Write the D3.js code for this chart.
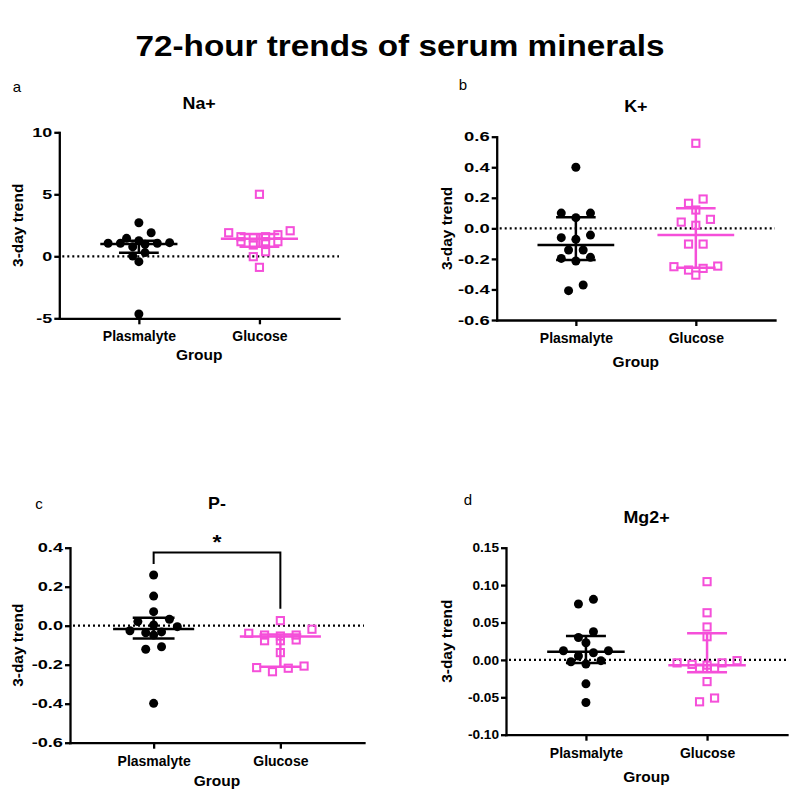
<!DOCTYPE html>
<html><head><meta charset="utf-8">
<script src="https://cdn.jsdelivr.net/npm/d3@7"></script>
<style>
body{margin:0;background:#fff;}
svg{display:block;font-family:Arial,"Liberation Sans",sans-serif;}
</style>
</head><body>
<svg id="chart" width="800" height="805"></svg>
<script>
// ---------------- DATA ----------------
const groups = ["Plasmalyte", "Glucose"];

// Na+
const naPlasmalyte = [2.71, 0.97, 1.05, 1.26, 1.1, 1.45, 0.77, 1.05, 1.9, 1.05, 0.3, 0.02, -0.43, -4.65];
const naGlucose    = [5.0, 1.58, 1.74, 1.18, 2.06, 1.18, 1.58, 0.91, 1.9, 1.18, 1.5, 0.37, -0.03, -0.89];
const naMedian = [1.0, 1.42];
const naQ1     = [0.29, 0.77];
const naQ3     = [1.26, 1.8];
const naTicks  = [-5, 0, 5, 10];

// K+
const kPlasmalyte = [0.40, 0.10, 0.10, 0.07, -0.044, -0.072, -0.061, -0.142, -0.142, -0.19, -0.197, -0.214, -0.408, -0.371];
const kGlucose    = [0.557, 0.192, 0.164, 0.12, 0.059, 0.041, 0.02, -0.103, -0.103, -0.247, -0.306, -0.251, -0.273, -0.262];
const kMedian = [-0.109, -0.044];
const kQ1     = [-0.208, -0.258];
const kQ3     = [0.072, 0.131];
const kTicks  = [-0.6, -0.4, -0.2, 0.0, 0.2, 0.4, 0.6];

// P-
const pPlasmalyte = [0.26, 0.152, 0.072, 0.021, 0.033, 0.004, -0.036, -0.032, -0.005, -0.048, -0.026, -0.121, -0.108, -0.398];
const pGlucose    = [0.026, -0.039, -0.018, -0.077, -0.053, -0.077, -0.048, -0.048, -0.073, -0.138, -0.236, -0.207, -0.218, -0.215];
const pMedian = [-0.017, -0.055];
const pQ1     = [-0.065, -0.21];
const pQ3     = [0.041, -0.045];
const pTicks  = [-0.6, -0.4, -0.2, 0.0, 0.2, 0.4];
const pSignificance = ["*"];
const pBracketValue = [0.375];

// Mg2+
const mgPlasmalyte = [0.0747, 0.081, 0.0377, 0.030, 0.023, 0.0096, 0.0123, 0.0123, 0.0052, -0.0024, -0.0055, -0.001, -0.032, -0.057];
const mgGlucose    = [0.1046, 0.063, 0.044, 0.031, -0.006, -0.001, -0.007, -0.011, -0.011, -0.004, -0.004, -0.029, -0.056, -0.051];
const mgMedian = [0.011, -0.007];
const mgQ1     = [-0.004, -0.0166];
const mgQ3     = [0.032, 0.0355];
const mgTicks  = [-0.10, -0.05, 0.00, 0.05, 0.10, 0.15];

const mainTitle = "72-hour trends of serum minerals";
const yTitle = "3-day trend";
const xTitle = "Group";

// ---------------- LAYOUT / STYLE ----------------
const colors = ["#000000", "#f54fd9"];
const svg = d3.select("#chart");

const panels = [
  {letter:"a", title:"Na+", data:[naPlasmalyte, naGlucose], med:naMedian, q1:naQ1, q3:naQ3, ticks:naTicks, dec:0,
   left:59.3, right:339, top:132.3, bottom:318.3, letterX:17, letterY:87, titleY:103, yLabelX:18, groupY:355, spread:12.3, tickSx:1.38, thr:8},
  {letter:"b", title:"K+", data:[kPlasmalyte, kGlucose], med:kMedian, q1:kQ1, q3:kQ3, ticks:kTicks, dec:1,
   left:496.7, right:775, top:136.7, bottom:320, letterX:463, letterY:85, titleY:106, yLabelX:447, groupY:362, spread:14.6, tickSx:1.42, thr:7},
  {letter:"c", title:"P-", data:[pPlasmalyte, pGlucose], med:pMedian, q1:pQ1, q3:pQ3, ticks:pTicks, dec:1,
   left:70, right:364, top:547.7, bottom:742.7, letterX:39, letterY:504, titleY:503, yLabelX:18, groupY:781, spread:15.8, tickSx:1.4, thr:7,
   sig:{label:pSignificance[0], value:pBracketValue[0]}},
  {letter:"d", title:"Mg2+", data:[mgPlasmalyte, mgGlucose], med:mgMedian, q1:mgQ1, q3:mgQ3, ticks:mgTicks, dec:2,
   left:506, right:787, top:547.7, bottom:734.7, letterX:468, letterY:500, titleY:517, yLabelX:447, groupY:777, spread:15, tickSx:1.05, thr:7}
];

function addText(g, x, y, str, size, weight, sx, rotate) {
  return g.append("text")
    .attr("transform", `translate(${x},${y})` + (rotate ? ` rotate(${rotate})` : "") + ` scale(${sx},1)`)
    .attr("text-anchor", "middle")
    .attr("dy", "0.35em")
    .attr("font-size", size)
    .attr("font-weight", weight)
    .attr("fill", "#000")
    .text(str);
}

// main title
addText(svg, 400, 45, mainTitle, 30, "bold", 1.11);

function swarm(values, y, spread, thr) {
  const pts = values.map((v, i) => ({v, i, py: y(v), dx: 0}));
  const sorted = pts.slice().sort((a, b) => a.py - b.py);
  const rows = [];
  let cur = null;
  sorted.forEach(p => {
    if (cur && p.py - cur[0].py < thr) cur.push(p);
    else { cur = [p]; rows.push(cur); }
  });
  rows.forEach(row => {
    const n = row.length;
    const order = row.slice().sort((a, b) => a.v - b.v);
    const slots = [];
    if (n % 2) {
      slots.push(0);
      for (let k = 1; slots.length < n; k++) { slots.push(-k); if (slots.length < n) slots.push(k); }
    } else {
      for (let k = 0.5; slots.length < n; k++) { slots.push(-k); slots.push(k); }
    }
    order.forEach((p, j) => p.dx = slots[j] * spread);
  });
  return pts;
}

panels.forEach(P => {
  const g = svg.append("g");
  const x = d3.scalePoint().domain(groups).range([P.left, P.right]).padding(0.66);
  const y = d3.scaleLinear().domain([P.ticks[0], P.ticks[P.ticks.length - 1]]).range([P.bottom, P.top]);
  const step = x.step();

  // letter, title
  addText(g, P.letterX, P.letterY, P.letter, 15, "normal", 1.0);
  addText(g, (P.left + P.right) / 2, P.titleY, P.title, 17, "bold", 1.05);

  // zero dotted line
  g.append("line")
    .attr("x1", P.left + 3).attr("x2", P.right)
    .attr("y1", y(0)).attr("y2", y(0))
    .attr("stroke", "#000").attr("stroke-width", 2.2)
    .attr("stroke-dasharray", "2,3");

  // points
  groups.forEach((grp, gi) => {
    const pts = swarm(P.data[gi], y, P.spread, P.thr);
    const cx = x(grp);
    if (gi === 0) {
      g.selectAll(null).data(pts).enter().append("circle")
        .attr("cx", d => cx + d.dx).attr("cy", d => d.py).attr("r", 4.5)
        .attr("fill", colors[0]);
    } else {
      const s = 7.2;
      g.selectAll(null).data(pts).enter().append("rect")
        .attr("x", d => cx + d.dx - s / 2).attr("y", d => d.py - s / 2)
        .attr("width", s).attr("height", s)
        .attr("fill", "none").attr("stroke", colors[1]).attr("stroke-width", 2);
    }
  });

  // error bars (median + IQR)
  groups.forEach((grp, gi) => {
    const cx = x(grp);
    const col = colors[gi];
    const mw = 0.32 * step, cw = 0.165 * step;
    const eg = g.append("g").attr("stroke", col).attr("stroke-width", 2.5);
    eg.append("line").attr("x1", cx).attr("x2", cx).attr("y1", y(P.q1[gi])).attr("y2", y(P.q3[gi]));
    eg.append("line").attr("x1", cx - cw).attr("x2", cx + cw).attr("y1", y(P.q1[gi])).attr("y2", y(P.q1[gi]));
    eg.append("line").attr("x1", cx - cw).attr("x2", cx + cw).attr("y1", y(P.q3[gi])).attr("y2", y(P.q3[gi]));
    eg.append("line").attr("x1", cx - mw).attr("x2", cx + mw).attr("y1", y(P.med[gi])).attr("y2", y(P.med[gi]));
  });

  // significance
  if (P.sig) {
    const by = y(P.sig.value);
    const x0 = x(groups[0]), x1 = x(groups[1]);
    const l0 = y(d3.max(P.data[0])) - 11, l1 = y(d3.max(P.data[1])) - 12;
    g.append("path")
      .attr("d", `M${x0},${l0}V${by}H${x1}V${l1}`)
      .attr("fill", "none").attr("stroke", "#000").attr("stroke-width", 2);
    addText(g, (x0 + x1) / 2, by - 11, P.sig.label, 21, "bold", 1.1);
  }

  // axes
  const yAxis = d3.axisLeft(y).tickValues(P.ticks).tickFormat(v => v.toFixed(P.dec))
    .tickSize(5).tickSizeOuter(0).tickPadding(2);
  const ya = g.append("g").attr("transform", `translate(${P.left},0)`).call(yAxis);
  ya.select(".domain").attr("stroke-width", 2.3).attr("stroke-linecap", "square");
  ya.selectAll(".tick line").attr("stroke-width", 2.3);
  ya.selectAll(".tick text")
    .attr("font-size", 13).attr("font-weight", "bold").attr("font-family", "Arial, 'Liberation Sans', sans-serif")
    .attr("fill", "#000").attr("x", 0)
    .attr("transform", `translate(-7,0) scale(${P.tickSx},1)`);

  const xAxis = d3.axisBottom(x).tickSize(6).tickSizeOuter(0).tickPadding(7);
  const xa = g.append("g").attr("transform", `translate(0,${P.bottom})`).call(xAxis);
  xa.select(".domain").attr("stroke-width", 2.3).attr("stroke-linecap", "square");
  xa.selectAll(".tick line").attr("stroke-width", 2.3);
  xa.selectAll(".tick text")
    .attr("font-size", 14).attr("font-weight", "bold").attr("font-family", "Arial, 'Liberation Sans', sans-serif")
    .attr("fill", "#000");

  // axis titles
  addText(g, P.yLabelX, (P.top + P.bottom) / 2, yTitle, 15, "bold", 1.03, -90);
  addText(g, (P.left + P.right) / 2, P.groupY, xTitle, 15.5, "bold", 1.0);
});
</script>
</body></html>
